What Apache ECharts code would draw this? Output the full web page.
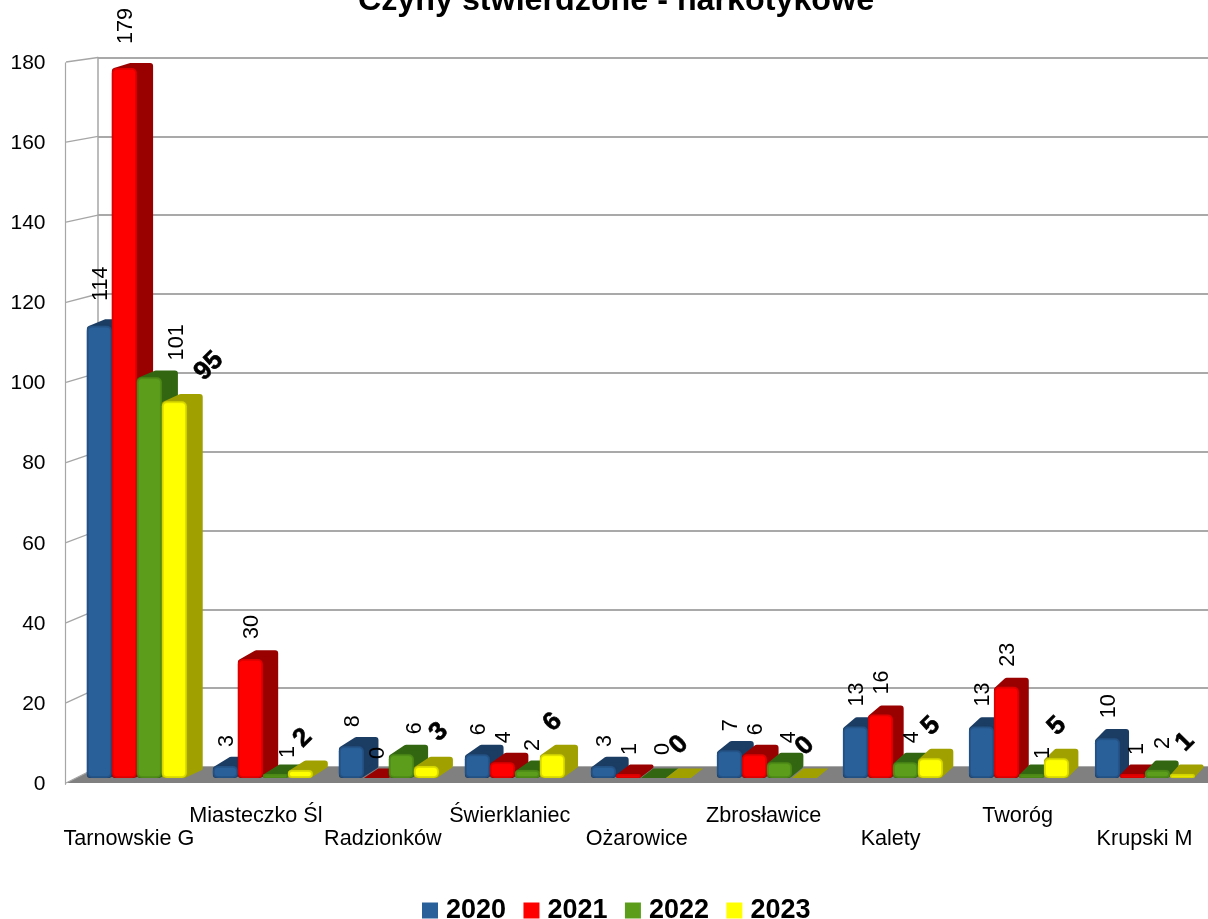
<!DOCTYPE html>
<html><head><meta charset="utf-8">
<style>html,body{margin:0;padding:0;background:#fff}#c{width:1208px;height:919px}</style>
<script src="https://cdn.jsdelivr.net/npm/echarts@6/dist/echarts.min.js"></script>
</head><body><div id="c"></div>
<script>
const categories = ['Tarnowskie G','Miasteczko Śl','Radzionków','Świerklaniec','Ożarowice','Zbrosławice','Kalety','Tworóg','Krupski M'];
const seriesNames = ['2020','2021','2022','2023'];
const v2020 = [114,3,8,6,3,7,13,13,10];
const v2021 = [179,30,0,4,1,6,16,23,1];
const v2022 = [101,1,6,2,0,4,4,1,2];
const v2023 = [95,2,3,6,0,0,5,5,1];
const values = [v2020,v2021,v2022,v2023];
const yTicks = [0,20,40,60,80,100,120,140,160,180];

const FONT = '"Liberation Sans"';
const mainColors = ['#2a6099','#ff0000','#5c9e1c','#ffff00'];
const edgeColors = ['#234f80','#d80000','#4a8516','#d0d000'];
const sideColors = ['#1b3c63','#990000','#336611','#a0a000'];
const BAR_W = 25;
// manual label nudges [series, category, dx, dy], echoing the reference's collision shifts
const labelNudges = [[2,0,26.5,7],[3,0,34,-3],[2,1,11,3],[3,1,2,0],[2,2,12,-1],[3,2,12,-2],[2,3,4,0],[2,4,8,-4],[3,4,0,-1],[2,5,8,0],[2,6,5,0],[2,7,10,4],[1,8,3,0],[2,8,4,-2],[3,8,2,0]];

const depthX = px => 16.5 - 0.0073*(px-100);
const depthY = v => 9.5 - v*0.025;

function nudge(s,c){ const n = labelNudges.find(a=>a[0]===s&&a[1]===c); return n?[n[2],n[3]]:[0,0]; }

function renderBar(params, api){
  const s = params.seriesIndex - 2;
  const c = api.value(0), v = api.value(1);
  const top = api.coord([c,v]), base = api.coord([c,0]);
  const x = top[0] + (s-2)*BAR_W, y = top[1], b = base[1];
  const h = b-y;
  const dx = depthX(x+BAR_W), dy = depthY(v);
  const ins = v>0 ? Math.min(3,h/2.2) : 0;
  const children = [{
    type:'polygon',
    shape:{points:[[x+ins,y+ins],[x+dx+ins,y-dy+ins],[x+BAR_W+dx-ins,y-dy+ins],[x+BAR_W+dx-ins,b-dy-ins],[x+BAR_W-ins,b-ins],[x+ins,b-ins]]},
    style:{fill:sideColors[s],stroke:sideColors[s],lineWidth:ins*2,lineJoin:'round'}
  }];
  if(h>0){
    const r = Math.min(5,h/2), e = Math.min(1.5,h/3);
    children.push({type:'rect',shape:{x:x,y:y,width:BAR_W,height:h,r:r},style:{fill:edgeColors[s]}});
    children.push({type:'rect',shape:{x:x+e+0.5,y:y+e+0.5,width:BAR_W-2*e-1,height:Math.max(h-2*e-1,0.5),r:Math.max(r-2,0)},
      style:{fill:mainColors[s],shadowBlur:3,shadowColor:mainColors[s]}});
  }
  return {type:'group',children:children};
}

function renderLabel(params, api){
  const s = api.value(2), c = api.value(0), v = api.value(1);
  const top = api.coord([c,v]);
  const cx = top[0] + (s-2)*BAR_W + BAR_W/2 - 0.5;
  const n = nudge(s,c);
  const txt = String(v);
  if(s===3){
    return {type:'text',x:cx+n[0]+1,y:top[1]-32+n[1],rotation:Math.PI/4,
      style:{text:txt,x:0,y:0,align:'center',verticalAlign:'middle',font:'bold 26px '+FONT,fill:'#000',stroke:'#000',lineWidth:0.6}};
  }
  const off = {1:25,2:32,3:42}[txt.length];
  return {type:'text',x:cx+n[0]+2,y:top[1]-off+n[1],rotation:Math.PI/2,
    style:{text:txt,x:0,y:0,align:'center',verticalAlign:'middle',font:'21.6px '+FONT,fill:'#000'}};
}

const barSeries = seriesNames.map((name,s)=>({
  type:'custom',name:name,xAxisIndex:1,yAxisIndex:1,z:3,silent:true,clip:false,
  itemStyle:{color:mainColors[s]},
  encode:{x:0,y:1},
  data:values[s].map((v,c)=>[c,v]),
  renderItem:renderBar
}));

const labelData = [];
values.forEach((arr,s)=>arr.forEach((v,c)=>labelData.push([c,v,s])));

const option = {
  animation:false,
  backgroundColor:'#fff',
  title:{text:'Czyny stwierdzone - narkotykowe',left:611,top:-20,textAlign:'center',
    textStyle:{fontFamily:FONT,fontWeight:'bold',fontSize:32.25,color:'#000'}},
  legend:{data:seriesNames,left:417,top:892,itemWidth:16,itemHeight:16,itemGap:17.4,selectedMode:false,
    icon:'rect',textStyle:{fontFamily:FONT,fontWeight:'bold',fontSize:27,color:'#000',padding:[0,0,0,3]}},
  grid:[
    {left:65.5,right:0,top:62.8,height:721.5},
    {left:73.85,width:1137,top:64,height:714},
    {left:98,right:0,top:57.5,height:709.5}
  ],
  xAxis:[
    {type:'category',gridIndex:0,data:categories,axisLine:{show:false},axisTick:{show:false},
     axisLabel:{interval:0,margin:20,hideOverlap:false,fontFamily:FONT,fontSize:21.6,color:'#000',lineHeight:23,
       formatter:(v,i)=> i%2===0 ? '\n'+v : v}},
    {type:'category',gridIndex:1,data:categories,show:false},
    {type:'category',gridIndex:2,data:categories,show:false}
  ],
  yAxis:[
    {type:'value',gridIndex:0,min:0,max:180,interval:20,splitLine:{show:false},axisTick:{show:false},
     axisLine:{show:true,lineStyle:{color:'#a6a6a6',width:1.2}},
     axisLabel:{margin:20,fontFamily:FONT,fontSize:21,color:'#000'}},
    {type:'value',gridIndex:1,min:0,max:180,interval:20,show:false},
    {type:'value',gridIndex:2,min:0,max:180,interval:20,axisLabel:{show:false},axisTick:{show:false},
     axisLine:{show:true,lineStyle:{color:'#a6a6a6',width:1.5}},
     splitLine:{show:true,lineStyle:{color:'#a9a9a9',width:2}}}
  ],
  series:[
    {type:'custom',xAxisIndex:2,yAxisIndex:2,z:1,silent:true,clip:false,data:[[0,0]],
     renderItem:(p,api)=>{
       const g=p.coordSys, bY=g.y+g.height, x0=g.x, x1=g.x+g.width;
       return {type:'polygon',shape:{points:[[x0-32,bY+16],[x0,bY],[x1,bY],[x1,bY+16]]},style:{fill:'#808080'}};
     }},
    {type:'custom',xAxisIndex:2,yAxisIndex:2,z:2,silent:true,clip:false,data:yTicks.map(t=>[0,t]),encode:{y:1},
     renderItem:(p,api)=>{
       const g=p.coordSys, by=api.coord([0,api.value(1)])[1], bY=g.y+g.height;
       const fy=bY+16-(bY-by)*721/709.5;
       return {type:'line',shape:{x1:g.x-32,y1:fy,x2:g.x,y2:by},style:{stroke:'#a6a6a6',lineWidth:1.3}};
     }},
    ...barSeries,
    {type:'custom',xAxisIndex:1,yAxisIndex:1,z:6,silent:true,clip:false,data:labelData,encode:{x:0,y:1},renderItem:renderLabel}
  ]
};
const chart = echarts.init(document.getElementById('c'),null,{renderer:'canvas'});
chart.setOption(option);
</script></body></html>
